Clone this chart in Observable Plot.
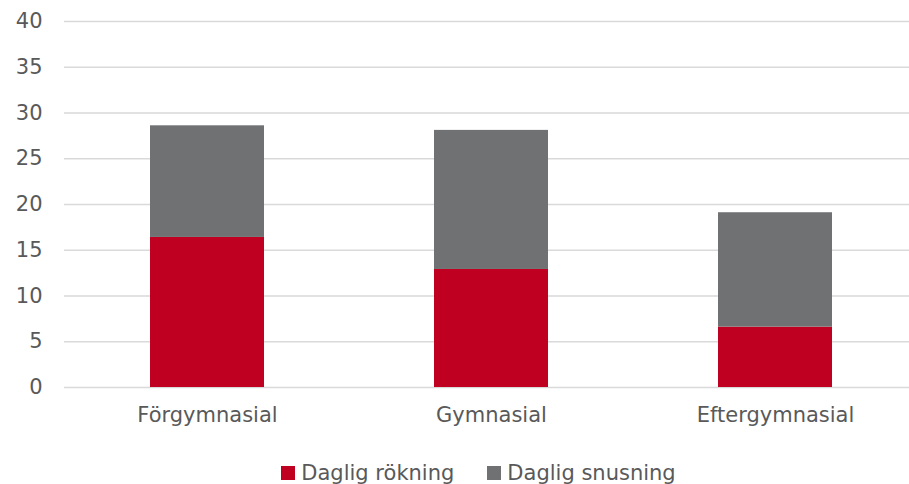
<!DOCTYPE html>
<html>
<head>
<meta charset="utf-8">
<script src="https://cdn.jsdelivr.net/npm/d3@7"></script>
<script src="https://cdn.jsdelivr.net/npm/@observablehq/plot@0.6"></script>
<style>
  html, body { margin: 0; padding: 0; background: #fff; }
  body { width: 909px; height: 484px; overflow: hidden; font-family: "DejaVu Sans", sans-serif; }
  #legend { display: flex; justify-content: center; align-items: center; gap: 33px; font-size: 21px; color: #595959; margin-top: 21px; padding-left: 48px; }
  .item { display: flex; align-items: center; gap: 6px; }
  .sw { width: 14px; height: 14px; display: inline-block; }
</style>
</head>
<body>
<div id="chart"></div>
<div id="legend"></div>
<script>
const categories = ["Förgymnasial", "Gymnasial", "Eftergymnasial"];
const seriesNames = ["Daglig rökning", "Daglig snusning"];
const rokning = [16.4, 12.9, 6.6];
const snusning = [12.2, 15.2, 12.5];
const yTicks = [0, 5, 10, 15, 20, 25, 30, 35, 40];
const colors = ["#c00020", "#707173"];

const data = [];
categories.forEach((c, i) => {
  data.push({cat: c, series: seriesNames[0], value: rokning[i]});
  data.push({cat: c, series: seriesNames[1], value: snusning[i]});
});

const chart = Plot.plot({
  width: 909,
  height: 440,
  marginLeft: 64,
  marginRight: 0,
  marginTop: 21,
  marginBottom: 53,
  style: {fontFamily: '"DejaVu Sans", sans-serif', fontSize: "21px", color: "#595959", background: "#fff"},
  x: {domain: categories, range: [64, 918], paddingInner: 0.6, paddingOuter: 0.3, label: null},
  y: {domain: [0, 40], ticks: yTicks, label: null},
  color: {domain: seriesNames, range: colors},
  marks: [
    Plot.ruleY(yTicks, {stroke: "#d9d9d9", strokeWidth: 1.5}),
    Plot.barY(data, Plot.stackY({x: "cat", y: "value", fill: "series", order: seriesNames})),
    Plot.axisY({ticks: yTicks, tickSize: 0, tickPadding: 22, fill: "#595959"}),
    Plot.axisX({tickSize: 0, tickPadding: 20, fill: "#595959"})
  ]
});
document.getElementById("chart").appendChild(chart);

const legend = document.getElementById("legend");
seriesNames.forEach((s, i) => {
  const it = document.createElement("div");
  it.className = "item";
  const sw = document.createElement("span");
  sw.className = "sw";
  sw.style.background = colors[i];
  const t = document.createElement("span");
  t.textContent = s;
  it.appendChild(sw);
  it.appendChild(t);
  legend.appendChild(it);
});
</script>
</body>
</html>
